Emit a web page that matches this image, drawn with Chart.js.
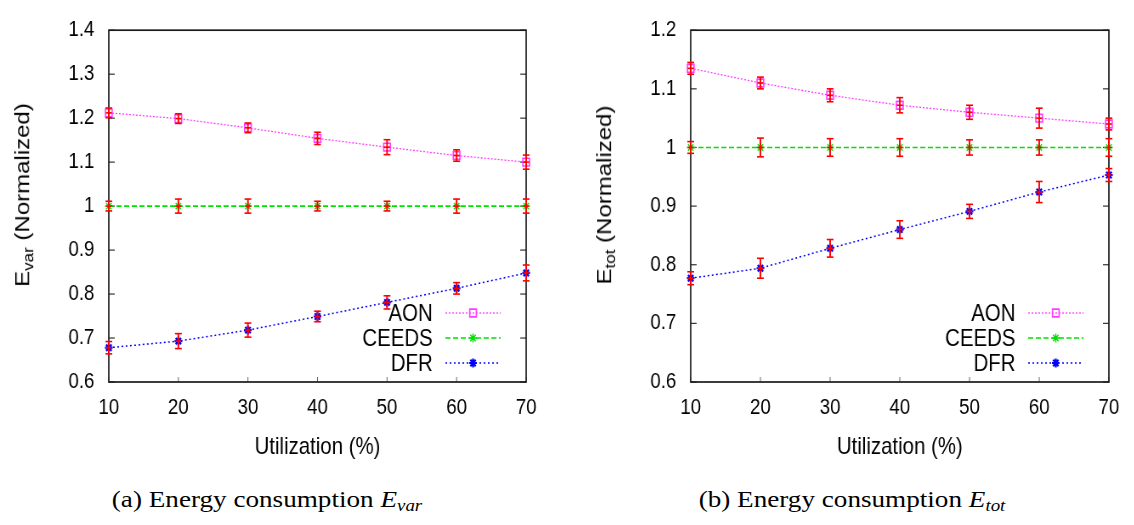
<!DOCTYPE html>
<html><head><meta charset="utf-8">
<script src="https://cdn.jsdelivr.net/npm/chart.js@4.4.1/dist/chart.umd.min.js"></script>
<style>
html,body{margin:0;padding:0;background:#fff;}
#page{position:relative;width:1134px;height:525px;overflow:hidden;background:#fff;}
.panel{position:absolute;top:0;height:470px;transform:scaleX(0.85);transform-origin:0 0;}
.ytitle{position:absolute;top:195px;font-family:"Liberation Sans",Arial,sans-serif;font-size:24px;color:#000;white-space:nowrap;transform:translate(-50%,-50%) rotate(-90deg);}
.ytitle sub{font-size:17px;vertical-align:-5px;line-height:0;}
.caption{position:absolute;top:500px;font-family:"Liberation Serif",serif;font-size:23px;color:#000;white-space:nowrap;transform:translate(-50%,-50%) scaleX(1.18);}
.caption sub{font-size:16px;vertical-align:-4px;line-height:0;}
</style>
</head>
<body>
<div id="page">
  <div class="panel" style="left:0;width:660px;">
    <canvas id="cVar"></canvas>
    <div class="ytitle" style="left:26px;">E<sub>var</sub> (Normalized)</div>
  </div>
  <div class="panel" style="left:570px;width:664px;">
    <canvas id="cTot"></canvas>
    <div class="ytitle" style="left:40px;">E<sub>tot</sub> (Normalized)</div>
  </div>
  <div class="caption" style="left:267px;">(a) Energy consumption <i>E<sub>var</sub></i></div>
  <div class="caption" style="left:852px;">(b) Energy consumption <i>E<sub>tot</sub></i></div>
</div>
<script>
// ---- data ----
const utilization = [10, 20, 30, 40, 50, 60, 70];
const seriesNames = ['AON', 'CEEDS', 'DFR'];

const aonVar      = [1.212, 1.199, 1.178, 1.154, 1.134, 1.115, 1.100];
const aonVarErr   = [0.011, 0.011, 0.011, 0.014, 0.017, 0.013, 0.016];
const ceedsVar    = [1.000, 1.000, 1.000, 1.000, 1.000, 1.000, 1.000];
const ceedsVarErr = [0.011, 0.016, 0.016, 0.011, 0.011, 0.016, 0.016];
const dfrVar      = [0.678, 0.693, 0.718, 0.749, 0.781, 0.813, 0.848];
const dfrVarErr   = [0.014, 0.017, 0.016, 0.012, 0.015, 0.013, 0.018];

const aonTot      = [1.135, 1.110, 1.089, 1.072, 1.060, 1.050, 1.040];
const aonTotErr   = [0.010, 0.010, 0.011, 0.013, 0.012, 0.017, 0.010];
const ceedsTot    = [1.000, 1.000, 1.000, 1.000, 1.000, 1.000, 1.000];
const ceedsTotErr = [0.010, 0.016, 0.015, 0.015, 0.013, 0.013, 0.015];
const dfrTot      = [0.777, 0.794, 0.828, 0.860, 0.891, 0.924, 0.953];
const dfrTotErr   = [0.011, 0.017, 0.015, 0.015, 0.012, 0.018, 0.011];

const yTicksVar = [0.6, 0.7, 0.8, 0.9, 1.0, 1.1, 1.2, 1.3, 1.4];
const yTicksTot = [0.6, 0.7, 0.8, 0.9, 1.0, 1.1, 1.2];

// ---- styles ----
const seriesStyles = [
  {color: '#ff3cff', dash: [2, 2], width: 1.3, point: 'rect', radius: 5.5, pbw: 1.6},
  {color: '#00e000', dash: [6, 3], width: 1.6, point: 'star', radius: 4.5, pbw: 1.4},
  {color: '#0000ff', dash: [2, 3], width: 1.5, point: 'star', radius: 4.5, pbw: 2.2}
];

Chart.defaults.font.family = '"Liberation Sans", Arial, sans-serif';
Chart.defaults.color = '#000';

function drawMarker(ctx, st, x, y) {
  ctx.save();
  ctx.setLineDash([]);
  ctx.strokeStyle = st.color;
  ctx.lineWidth = st.pbw;
  ctx.beginPath();
  if (st.point === 'rect') {
    const s = st.radius * Math.SQRT1_2;
    ctx.rect(x - s, y - s, 2 * s, 2 * s);
  } else {
    const r = st.radius, d = r * Math.SQRT1_2;
    ctx.moveTo(x - r, y); ctx.lineTo(x + r, y);
    ctx.moveTo(x, y - r); ctx.lineTo(x, y + r);
    ctx.moveTo(x - d, y - d); ctx.lineTo(x + d, y + d);
    ctx.moveTo(x - d, y + d); ctx.lineTo(x + d, y - d);
  }
  ctx.stroke();
  ctx.restore();
}

function seg(ctx, x1, y1, x2, y2) {
  ctx.beginPath(); ctx.moveTo(x1, y1); ctx.lineTo(x2, y2); ctx.stroke();
}

const framePlugin = {
  id: 'frame',
  beforeDatasetsDraw(chart) {
    const {ctx, chartArea: a, scales: {x, y}} = chart;
    ctx.save();
    ctx.strokeStyle = '#333';
    ctx.lineWidth = 1.2;
    y.ticks.forEach(t => {
      const py = y.getPixelForValue(t.value);
      seg(ctx, a.left, py, a.left + 7, py);
      seg(ctx, a.right - 7, py, a.right, py);
    });
    ctx.strokeStyle = '#666';
    ctx.lineWidth = 1;
    x.ticks.forEach((t, i) => {
      const px = x.getPixelForValue(i);
      seg(ctx, px, a.bottom, px, a.bottom - 5);
    });
    ctx.strokeStyle = '#1a1a1a';
    ctx.lineWidth = 1.7;
    ctx.strokeRect(a.left, a.top, a.right - a.left, a.bottom - a.top);
    ctx.restore();
  },
  afterDatasetsDraw(chart) {
    const {ctx, chartArea: a, scales: {x, y}} = chart;
    ctx.save();
    // error bars
    ctx.strokeStyle = '#ff0000';
    chart.data.datasets.forEach(ds => {
      ds.errors.forEach((e, i) => {
        const v = ds.data[i];
        const px = x.getPixelForValue(i);
        const y1 = y.getPixelForValue(v + e);
        const y2 = y.getPixelForValue(v - e);
        const yc = y.getPixelForValue(v);
        ctx.lineWidth = 1.9;
        seg(ctx, px, y1, px, y2);
        ctx.lineWidth = 1.6;
        seg(ctx, px - 4, y1, px + 4, y1);
        seg(ctx, px - 4, y2, px + 4, y2);
        seg(ctx, px - 3.5, yc, px + 3.5, yc);
      });
    });
    // legend
    const rowOffsets = [69, 44, 19];
    ctx.font = '24px "Liberation Sans", Arial, sans-serif';
    ctx.fillStyle = '#000';
    ctx.textAlign = 'right';
    ctx.textBaseline = 'middle';
    chart.data.datasets.forEach((ds, i) => {
      const st = seriesStyles[i];
      const ly = a.bottom - rowOffsets[i];
      ctx.fillText(ds.label, a.right - 110, ly + 1);
      ctx.save();
      ctx.strokeStyle = st.color;
      ctx.lineWidth = st.width;
      ctx.setLineDash(st.dash);
      seg(ctx, a.right - 95, ly, a.right - 30, ly);
      ctx.restore();
      drawMarker(ctx, st, a.right - 62.5, ly);
    });
    ctx.restore();
  }
};

function buildDatasets(values, errors) {
  return values.map((vals, i) => {
    const st = seriesStyles[i];
    return {
      label: seriesNames[i],
      data: vals,
      errors: errors[i],
      borderColor: st.color,
      backgroundColor: 'transparent',
      borderWidth: st.width,
      borderDash: st.dash,
      pointStyle: st.point,
      pointRadius: st.radius,
      pointBorderWidth: st.pbw,
      pointBorderColor: st.color,
      pointBackgroundColor: 'transparent',
      tension: 0,
      clip: false
    };
  });
}

function makeChart(id, datasets, yTicks, yAxisWidth, padRight) {
  return new Chart(document.getElementById(id), {
    type: 'line',
    data: {labels: utilization.map(String), datasets: datasets},
    options: {
      responsive: true,
      maintainAspectRatio: false,
      animation: false,
      layout: {padding: {left: 0, right: padRight, top: 11, bottom: 0}},
      plugins: {legend: {display: false}, tooltip: {enabled: false}},
      scales: {
        x: {
          type: 'category',
          offset: false,
          grid: {display: false, drawTicks: false},
          border: {display: false},
          ticks: {padding: 13, font: {size: 22}, maxRotation: 0, autoSkip: false},
          title: {display: true, text: 'Utilization (%)', font: {size: 24}, padding: {top: 4, bottom: 8}},
          afterFit: s => { s.height = 88; }
        },
        y: {
          min: yTicks[0],
          max: yTicks[yTicks.length - 1],
          grid: {display: false, drawTicks: false},
          border: {display: false},
          afterBuildTicks: s => { s.ticks = yTicks.map(v => ({value: v})); },
          ticks: {padding: 17, font: {size: 22}, callback: v => String(parseFloat(Number(v).toFixed(1)))},
          afterFit: s => { s.width = yAxisWidth; }
        }
      }
    },
    plugins: [framePlugin]
  });
}

makeChart('cVar', buildDatasets([aonVar, ceedsVar, dfrVar], [aonVarErr, ceedsVarErr, dfrVarErr]), yTicksVar, 128, 41);
makeChart('cTot', buildDatasets([aonTot, ceedsTot, dfrTot], [aonTotErr, ceedsTotErr, dfrTotErr]), yTicksTot, 142, 30);
</script>
</body></html>
